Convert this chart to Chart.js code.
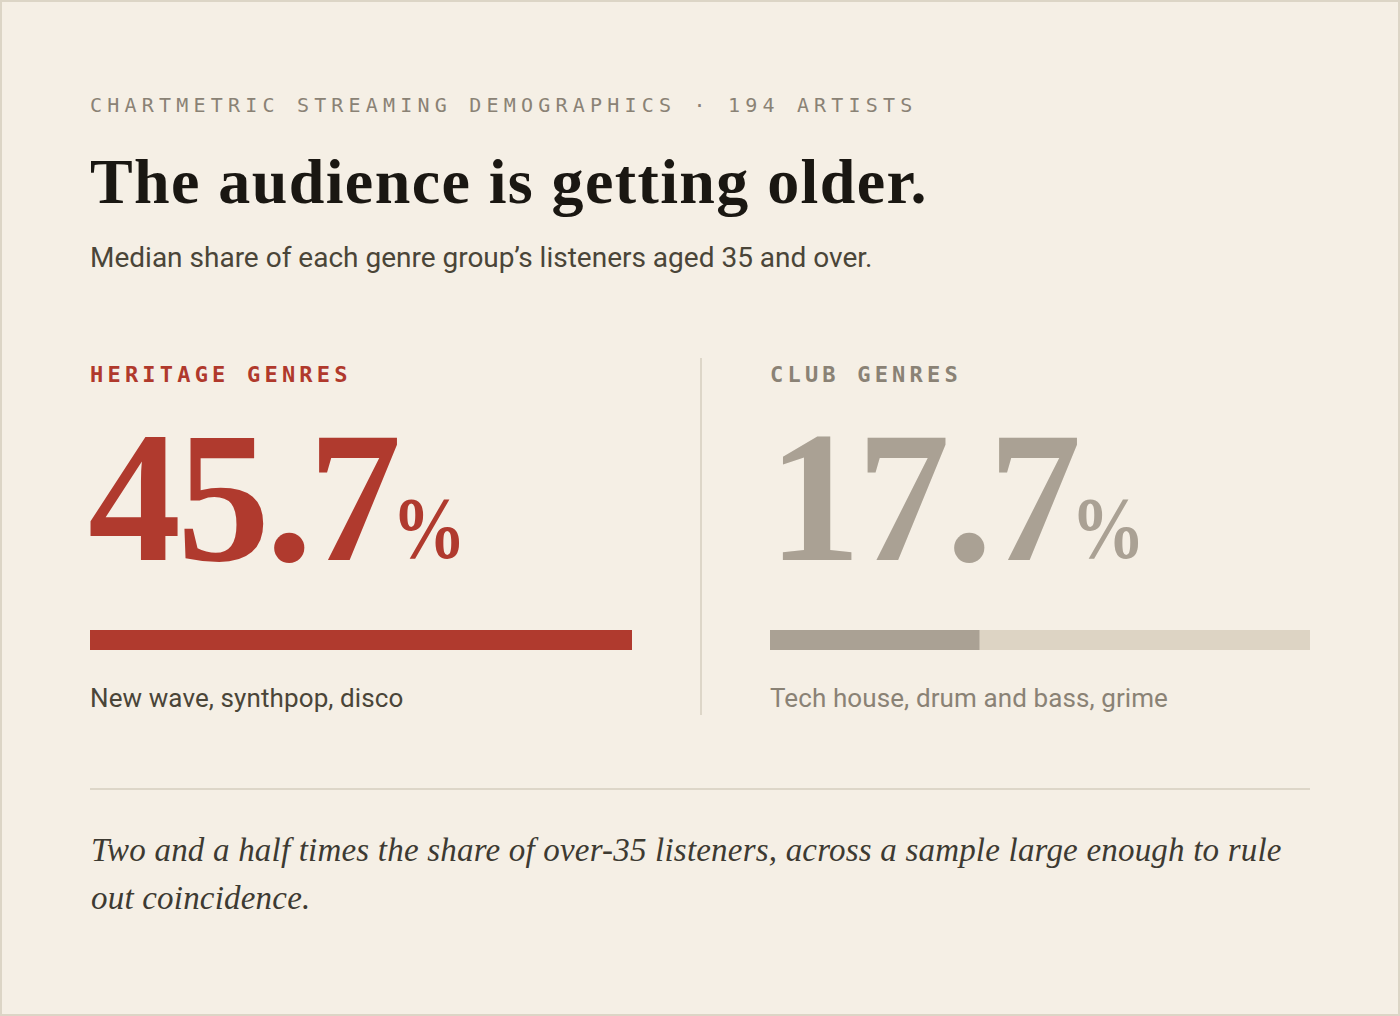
<!DOCTYPE html>
<html>
<head>
<meta charset="utf-8">
<script src="https://cdn.jsdelivr.net/npm/chart.js@4.4.0/dist/chart.umd.min.js"></script>
<style>
  html, body { margin: 0; padding: 0; }
  body { width: 1400px; height: 1016px; background: #f5efe5; overflow: hidden; }
  .card { position: absolute; left: 0; top: 0; width: 1396px; height: 1012px;
          border: 2px solid #dcd5c6; background: #f5efe5; }
  .abs { position: absolute; white-space: nowrap; }
  .eyebrow { left: 90px; top: 95px; font: 20px/20px "DejaVu Sans Mono", monospace;
             letter-spacing: 5.2px; color: #8a8275; }
  .title { left: 90px; top: 150px; font: bold 64px/64px "Liberation Serif", serif;
           letter-spacing: 1.4px; color: #1a1712; }
  .sub { left: 90px; top: 244px; font: 28px/28px Roboto, sans-serif; color: #4a4538; }
  .label { top: 364px; font: bold 22px/22px "DejaVu Sans Mono", monospace; letter-spacing: 4.2px; }
  .big { top: 404px; font: bold 186px/186px "Liberation Serif", serif; letter-spacing: -4px; }
  .pct { top: 485px; font: bold 86px/86px "Liberation Serif", serif;
         transform: scaleX(0.86); transform-origin: 0 0; }
  .bar { position: absolute; top: 630px; height: 20px; }
  .cap { top: 685px; font: 26px/26px Roboto, sans-serif; letter-spacing: 0.1px; }
  .vrule { position: absolute; left: 700px; top: 358px; width: 2px; height: 357px; background: #ddd6c8; }
  .hrule { position: absolute; left: 90px; top: 788px; width: 1220px; height: 2px; background: #ddd6c8; }
  .note { left: 91px; top: 826px; width: 1220px; white-space: normal;
          font: italic 33px/48px "Liberation Serif", serif; letter-spacing: 0.2px; color: #3d3a32; }
</style>
</head>
<body>
<div class="card"></div>
<div class="abs eyebrow">CHARTMETRIC STREAMING DEMOGRAPHICS · 194 ARTISTS</div>
<div class="abs title">The audience is getting older.</div>
<div class="abs sub">Median share of each genre group’s listeners aged 35 and over.</div>
<div class="vrule"></div>
<div id="panels"></div>
<div class="hrule"></div>
<div class="abs note">Two and a half times the share of over-35 listeners, across a sample large enough to rule out coincidence.</div>

<script>
// data
const groups = ['HERITAGE GENRES', 'CLUB GENRES'];
const shareOver35 = [45.7, 17.7];
const genreExamples = ['New wave, synthpop, disco', 'Tech house, drum and bass, grime'];

// styling per panel
const panelLeft = [90, 770];
const panelWidth = [542, 540];
const pctLeft = [392, 1071];
const labelColor = ['#b0392c', '#8a8275'];
const valueColor = ['#b03a2e', '#aaa194'];
const barColor = ['#b03a2e', '#aaa194'];
const trackColor = '#ddd4c4';
const capColor = ['#4a4538', '#8a8275'];

const scaleMax = Math.max(...shareOver35);
const panels = document.getElementById('panels');

groups.forEach(function (name, i) {
  const x = panelLeft[i];

  const label = document.createElement('div');
  label.className = 'abs label';
  label.style.left = x + 'px';
  label.style.color = labelColor[i];
  label.textContent = name;
  panels.appendChild(label);

  const big = document.createElement('div');
  big.className = 'abs big';
  big.style.left = (x - 2) + 'px';
  big.style.color = valueColor[i];
  big.textContent = shareOver35[i].toFixed(1);
  panels.appendChild(big);

  const pct = document.createElement('div');
  pct.className = 'abs pct';
  pct.style.left = pctLeft[i] + 'px';
  pct.style.color = valueColor[i];
  pct.textContent = '%';
  panels.appendChild(pct);

  const wrap = document.createElement('div');
  wrap.className = 'bar';
  wrap.style.left = x + 'px';
  wrap.style.width = panelWidth[i] + 'px';
  const canvas = document.createElement('canvas');
  wrap.appendChild(canvas);
  panels.appendChild(wrap);

  const cap = document.createElement('div');
  cap.className = 'abs cap';
  cap.style.left = x + 'px';
  cap.style.color = capColor[i];
  cap.textContent = genreExamples[i];
  panels.appendChild(cap);

  // one horizontal bar over a full-length track
  new Chart(canvas, {
    type: 'bar',
    data: {
      labels: [name],
      datasets: [
        { data: [shareOver35[i]], backgroundColor: barColor[i], order: 1,
          barPercentage: 1, categoryPercentage: 1, borderWidth: 0 },
        { data: [scaleMax], backgroundColor: trackColor, order: 2,
          barPercentage: 1, categoryPercentage: 1, borderWidth: 0 }
      ]
    },
    options: {
      indexAxis: 'y',
      responsive: true,
      maintainAspectRatio: false,
      animation: false,
      layout: { padding: 0 },
      plugins: { legend: { display: false }, tooltip: { enabled: false } },
      datasets: { bar: { grouped: false } },
      scales: {
        x: { display: false, min: 0, max: scaleMax },
        y: { display: false }
      }
    }
  });
});
</script>
</body>
</html>
